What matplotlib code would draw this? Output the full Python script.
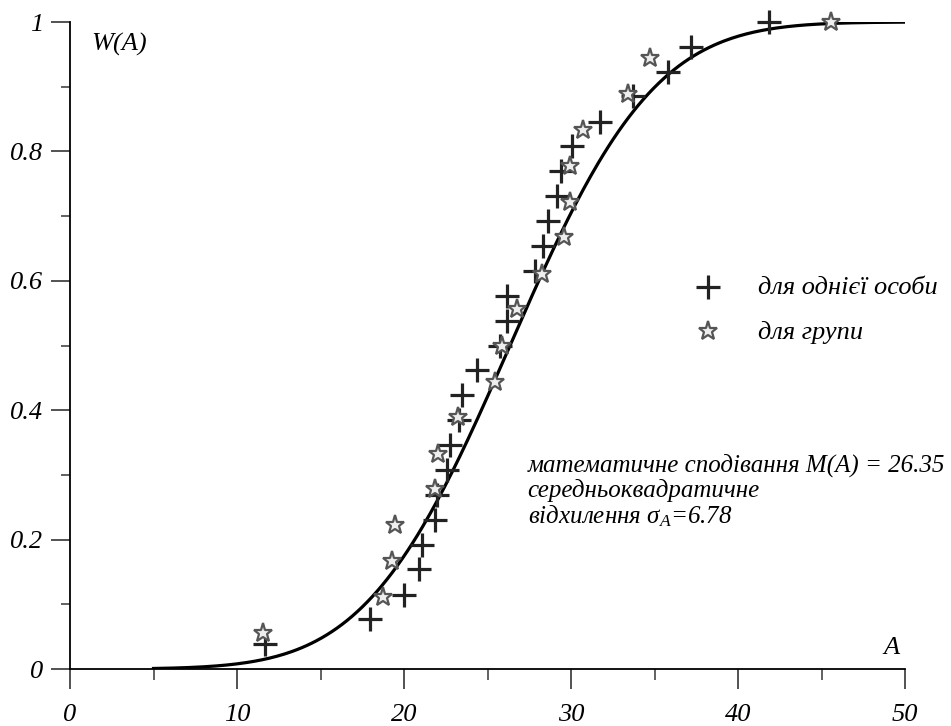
import math
import numpy as np
import matplotlib
matplotlib.use("Agg")
import matplotlib.pyplot as plt

# data
one_x = [11.68, 17.96, 20.02, 20.90, 21.06, 21.86, 22.00, 22.55, 22.75, 23.30, 23.50,
         24.35, 25.75, 26.15, 26.15, 27.84, 28.34, 28.64, 29.14, 29.38, 30.04, 31.74,
         33.69, 35.79, 37.19, 41.88]
one_w = [0.038, 0.077, 0.115, 0.154, 0.192, 0.231, 0.269, 0.308, 0.346, 0.385, 0.423,
         0.462, 0.500, 0.538, 0.577, 0.615, 0.654, 0.692, 0.731, 0.769, 0.808, 0.846,
         0.885, 0.923, 0.962, 1.000]

grp_x = [11.58, 18.76, 19.26, 19.46, 21.86, 22.05, 23.25, 25.45, 25.85, 26.75, 28.24,
         29.60, 29.94, 29.94, 30.74, 33.43, 34.73, 45.57]
grp_w = [0.056, 0.111, 0.167, 0.222, 0.278, 0.333, 0.389, 0.444, 0.500, 0.556, 0.611,
         0.667, 0.722, 0.778, 0.833, 0.889, 0.944, 1.000]

x_ticks = [0, 10, 20, 30, 40, 50]
x_labels = ['0', '10', '20', '30', '40', '50']
x_minor = [5, 15, 25, 35, 45]
y_ticks = [0, 0.2, 0.4, 0.6, 0.8, 1.0]
y_labels = ['0', '0.2', '0.4', '0.6', '0.8', '1']
y_minor = [0.1, 0.3, 0.5, 0.7, 0.9]

# normal distribution stated on the chart
mean_a = 26.35
sigma_a = 6.78
curve_x = np.linspace(5, 50, 300)
curve_w = [0.5 * (1 + math.erf((v - mean_a) / (sigma_a * math.sqrt(2)))) for v in curve_x]

plt.rcParams['font.family'] = 'Liberation Serif'
plt.rcParams['font.style'] = 'italic'
plt.rcParams['mathtext.fontset'] = 'custom'
plt.rcParams['mathtext.it'] = 'Liberation Serif:italic'
plt.rcParams['mathtext.rm'] = 'Liberation Serif:italic'

fs = 19

fig = plt.figure(figsize=(9.51, 7.26), dpi=100)
ax = fig.add_axes([70 / 951, 57 / 726, 835 / 951, 647 / 726])

ax.plot(curve_x, curve_w, color='black', lw=2.3, zorder=2)
ax.plot(one_x, one_w, ls='none', marker='+', ms=17, mew=2.3, color='#222222',
        zorder=3, clip_on=False)
ax.plot(grp_x, grp_w, ls='none', marker='*', ms=14, mew=1.6, mec='#555555',
        mfc='#eeeeee', zorder=4, clip_on=False)

ax.set_xlim(0, 50)
ax.set_ylim(0, 1)
for s in ['top', 'right']:
    ax.spines[s].set_visible(False)
ax.spines['left'].set_linewidth(1.3)
ax.spines['bottom'].set_linewidth(1.3)

ax.set_xticks(x_ticks)
ax.set_xticklabels(x_labels)
ax.set_xticks(x_minor, minor=True)
ax.set_yticks(y_ticks)
ax.set_yticklabels(y_labels)
ax.set_yticks(y_minor, minor=True)
ax.tick_params(axis='x', which='major', direction='out', length=14.5, width=1.3,
               color='#444444', pad=11, labelsize=fs)
ax.tick_params(axis='x', which='minor', direction='out', length=8, width=1.3, color='#555555')
ax.tick_params(axis='y', which='major', direction='out', length=13.5, width=1.3,
               color='#444444', pad=6, labelsize=fs)
ax.tick_params(axis='y', which='minor', direction='out', length=6.5, width=1.3, color='#555555')

ax.text(1.3, 0.965, 'W(A)', fontsize=fs, ha='left', va='center')
ax.text(49.7, 0.033, 'A', fontsize=fs, ha='right', va='center')

# legend drawn by hand
ax.plot([38.2], [0.591], ls='none', marker='+', ms=17, mew=2.3, color='#222222', clip_on=False)
ax.plot([38.2], [0.522], ls='none', marker='*', ms=14, mew=1.6, mec='#555555', mfc='#eeeeee', clip_on=False)
ax.text(41.2, 0.589, 'для однієї особи', fontsize=fs, va='center')
ax.text(41.2, 0.520, 'для групи', fontsize=fs, va='center')

ax.text(27.4, 0.315, 'математичне сподівання M(A) = 26.35', fontsize=18, va='center')
ax.text(27.4, 0.276, 'середньоквадратичне', fontsize=18, va='center')
ax.text(27.4, 0.236, r'відхилення $\sigma_A$=6.78', fontsize=18, va='center')

fig.savefig('out.png', dpi=100)
